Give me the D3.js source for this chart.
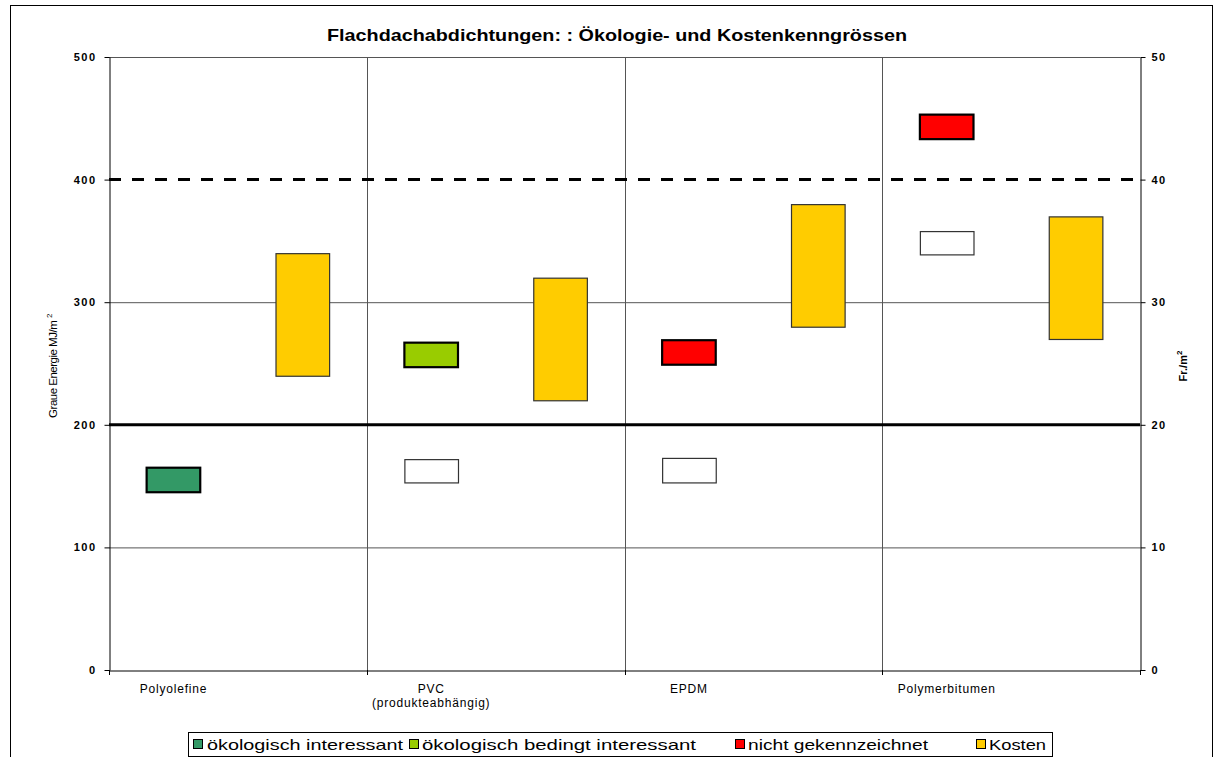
<!DOCTYPE html>
<html><head><meta charset="utf-8">
<script src="https://cdnjs.cloudflare.com/ajax/libs/d3/7.8.5/d3.min.js"></script>
<style>body{margin:0;background:#fff}svg{display:block;font-family:"Liberation Sans",Arial,sans-serif}</style>
</head><body>
<svg id="c" width="1223" height="757"></svg>
<script>
// ---- data ----
const categories = ["Polyolefine", "PVC", "EPDM", "Polymerbitumen"];
const categorySub = ["", "(produkteabhängig)", "", ""];
const ecoLow  = [145, 247, 249, 433];
const ecoHigh = [165, 267, 269, 453];
const ecoClass = ["ökologisch interessant", "ökologisch bedingt interessant", "nicht gekennzeichnet", "nicht gekennzeichnet"];
const altLow  = [null, 153, 153, 339];
const altHigh = [null, 172, 173, 358];
const costLow  = [24, 22, 28, 27];
const costHigh = [34, 32, 38, 37];
const leftTicks = [0, 100, 200, 300, 400, 500];
const rightTicks = [0, 10, 20, 30, 40, 50];
const limitSolid = 200, limitDashed = 400;
const legendLabels = ["ökologisch interessant", "ökologisch bedingt interessant", "nicht gekennzeichnet", "Kosten"];
const legendColors = ["#339966", "#99CC00", "#FF0000", "#FFCC00"];

const svg = d3.select("#c");
const L = 109, R = 1140, T = 57, B = 670;
const x = d3.scaleBand().domain(categories).range([L, R]).paddingInner(0).paddingOuter(0);
const yL = d3.scaleLinear().domain([0, 500]).range([B, T]);
const yR = d3.scaleLinear().domain([0, 50]).range([B, T]);
const color = d3.scaleOrdinal().domain(legendLabels).range(legendColors);
const bw = x.bandwidth();
const barW = bw * 0.208;

// outer frame
svg.append("rect").attr("x", 10.5).attr("y", 5.5).attr("width", 1202).attr("height", 800)
  .attr("fill", "none").attr("stroke", "#000").attr("stroke-width", 1);

// title
svg.append("text").attr("x", 617).attr("y", 41).attr("text-anchor", "middle")
  .attr("font-size", 16.5).attr("font-weight", "bold")
  .attr("textLength", 580).attr("lengthAdjust", "spacingAndGlyphs")
  .text("Flachdachabdichtungen: : Ökologie- und Kostenkenngrössen");

// horizontal gridlines
svg.append("g").selectAll("line").data(leftTicks.filter(d => d !== limitSolid && d !== limitDashed && d !== 0))
  .join("line").attr("x1", L).attr("x2", R).attr("y1", d => yL(d) + 0.5).attr("y2", d => yL(d) + 0.5)
  .attr("stroke", "#555").attr("stroke-width", 1);
// vertical category separators
svg.append("g").selectAll("line").data(categories.slice(1))
  .join("line").attr("x1", d => Math.round(x(d)) + 0.5).attr("x2", d => Math.round(x(d)) + 0.5)
  .attr("y1", T).attr("y2", B).attr("stroke", "#555").attr("stroke-width", 1);

// limit lines
svg.append("line").attr("x1", L).attr("x2", R).attr("y1", yL(limitSolid)).attr("y2", yL(limitSolid))
  .attr("stroke", "#000").attr("stroke-width", 3);
svg.append("line").attr("x1", L).attr("x2", R).attr("y1", yL(limitDashed)).attr("y2", yL(limitDashed))
  .attr("stroke", "#000").attr("stroke-width", 3).attr("stroke-dasharray", "12,11");

// white (unlabelled) ecology boxes
const idx = d3.range(categories.length);
svg.append("g").selectAll("rect").data(idx.filter(i => altLow[i] != null)).join("rect")
  .attr("x", i => x(categories[i]) + bw * 0.25 - barW / 2 + 0.5)
  .attr("y", i => yL(altHigh[i]) + 0.5)
  .attr("width", barW).attr("height", i => yL(altLow[i]) - yL(altHigh[i]))
  .attr("fill", "#fff").attr("stroke", "#333").attr("stroke-width", 1.2);

// ecology boxes
svg.append("g").selectAll("rect").data(idx).join("rect")
  .attr("x", i => x(categories[i]) + bw * 0.25 - barW / 2)
  .attr("y", i => yL(ecoHigh[i]))
  .attr("width", barW).attr("height", i => yL(ecoLow[i]) - yL(ecoHigh[i]))
  .attr("fill", i => color(ecoClass[i])).attr("stroke", "#000").attr("stroke-width", 2.2);

// cost boxes
svg.append("g").selectAll("rect").data(idx).join("rect")
  .attr("x", i => x(categories[i]) + bw * 0.75 - barW / 2 + 0.5)
  .attr("y", i => yR(costHigh[i]) + 0.5)
  .attr("width", barW).attr("height", i => yR(costLow[i]) - yR(costHigh[i]))
  .attr("fill", color("Kosten")).attr("stroke", "#333").attr("stroke-width", 1.2);

// axes
const axL = svg.append("g").attr("transform", `translate(${L + 0.5},0)`)
  .call(d3.axisLeft(yL).tickValues(leftTicks).tickSize(5).tickSizeOuter(0));
const axR = svg.append("g").attr("transform", `translate(${R + 0.5},0)`)
  .call(d3.axisRight(yR).tickValues(rightTicks).tickSize(5).tickSizeOuter(0));
const axB = svg.append("g").attr("transform", `translate(0,${B + 0.5})`)
  .call(d3.axisBottom(x).tickValues([]).tickSizeOuter(0));
// bottom ticks at category boundaries
svg.append("g").selectAll("line").data([...categories.map(c => x(c)), R]).join("line")
  .attr("x1", d => Math.round(d) + 0.5).attr("x2", d => Math.round(d) + 0.5)
  .attr("y1", B).attr("y2", B + 5).attr("stroke", "#000");
[axL, axR, axB].forEach(a => {
  a.select(".domain").attr("stroke", "#000").attr("stroke-width", 1);
  a.selectAll(".tick line").attr("stroke", "#000");
  a.selectAll(".tick text").attr("font-size", 11).attr("font-weight", "bold")
    .attr("font-family", "'Liberation Sans',Arial,sans-serif").attr("fill", "#000")
    .attr("letter-spacing", 1.5);
});
axL.selectAll(".tick text").attr("x", -13);
axR.selectAll(".tick text").attr("x", 11);

// category labels
const lab = svg.append("g").selectAll("text").data(idx).join("text")
  .attr("x", i => x(categories[i]) + bw * 0.25)
  .attr("y", 693).attr("text-anchor", "middle").attr("font-size", 12)
  .attr("letter-spacing", 0.8);
lab.append("tspan").attr("x", i => x(categories[i]) + bw * 0.25).text(i => categories[i]);
lab.append("tspan").attr("x", i => x(categories[i]) + bw * 0.25).attr("dy", 14).text(i => categorySub[i]);

// axis titles
svg.append("text").attr("transform", "translate(57,366) rotate(-90)").attr("text-anchor", "middle")
  .attr("font-size", 11.5).attr("letter-spacing", -0.5)
  .html('Graue Energie MJ/m <tspan dy="-5" font-size="8">2</tspan>');
svg.append("text").attr("transform", "translate(1187,366) rotate(-90)").attr("text-anchor", "middle")
  .attr("font-size", 11).attr("font-weight", "bold")
  .html('Fr./m<tspan dy="-5" font-size="8">2</tspan>');

// legend
svg.append("rect").attr("x", 188.5).attr("y", 732.5).attr("width", 864).attr("height", 24)
  .attr("fill", "#fff").attr("stroke", "#000").attr("stroke-width", 1);
const legSq = [193, 409, 735, 976];
const legTx = [207, 422, 748, 989];
const legW = [196, 274, 180, 57];
const lg = svg.append("g").selectAll("g").data(legendLabels).join("g");
lg.append("rect").attr("x", (d, i) => legSq[i] + 0.5).attr("y", 739.5).attr("width", 9).attr("height", 9)
  .attr("fill", d => color(d)).attr("stroke", "#000").attr("stroke-width", 1);
lg.append("text").attr("x", (d, i) => legTx[i]).attr("y", 750).attr("font-size", 15)
  .attr("textLength", (d, i) => legW[i]).attr("lengthAdjust", "spacingAndGlyphs").text(d => d);
</script>
</body></html>
